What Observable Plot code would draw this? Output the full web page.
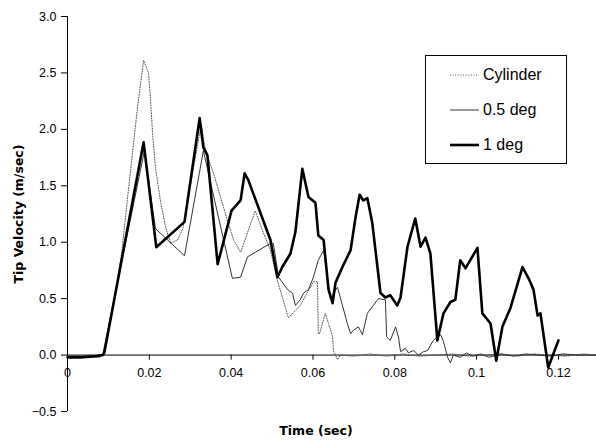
<!DOCTYPE html>
<html>
<head>
<meta charset="utf-8">
<script src="https://cdn.jsdelivr.net/npm/d3@7"></script>
<script src="https://cdn.jsdelivr.net/npm/@observablehq/plot@0.6"></script>
<style>
  html, body { margin: 0; padding: 0; background: #fff; }
  #wrap { position: relative; width: 596px; height: 444px; }
  #legend { position: absolute; left: 425px; top: 55px; width: 142px; height: 109px;
    border: 1px solid #000; background: #fff; font-family: "Liberation Sans", Arial, sans-serif;
    font-size: 16px; color: #000; box-sizing: border-box; }
  .item { position: absolute; left: 24px; display: flex; align-items: center; height: 20px; }
  .item svg { margin-right: 4px; }
</style>
</head>
<body>
<div id="wrap"><div id="legend"></div></div>
<script>
// Series names
const seriesNames = ["Cylinder", "0.5 deg", "1 deg"];

// Cylinder (dotted)
const cylT = [0, 0.004, 0.008, 0.0088, 0.0105, 0.0120, 0.0133, 0.0147, 0.0171, 0.0186, 0.0198, 0.0203, 0.0208, 0.0215, 0.0227, 0.0240, 0.0252, 0.0269, 0.0282, 0.0327, 0.0337, 0.0357, 0.0374, 0.0391, 0.0406, 0.0423, 0.0459, 0.0477, 0.0496, 0.0513, 0.0540, 0.0569, 0.0601, 0.0611, 0.0613, 0.0616, 0.0630, 0.0638, 0.0648, 0.0650, 0.0660, 0.0667, 0.070, 0.074, 0.078, 0.082, 0.086, 0.090, 0.094, 0.098, 0.102, 0.106, 0.110, 0.114, 0.118, 0.122, 0.126, 0.1293];
const cylV = [-0.02, -0.02, -0.02, 0.0, 0.32, 0.62, 0.92, 1.40, 2.19, 2.61, 2.50, 2.26, 1.96, 1.66, 1.37, 1.13, 0.99, 1.02, 1.12, 2.05, 1.81, 1.61, 1.40, 1.19, 1.02, 0.91, 1.28, 1.10, 0.93, 0.66, 0.33, 0.44, 0.65, 0.65, 0.19, 0.19, 0.37, 0.28, 0.16, 0.04, -0.04, 0.0, -0.01, 0.01, -0.01, 0.01, -0.01, 0.0, 0.01, -0.01, 0.0, 0.01, -0.01, 0.01, 0.0, -0.01, 0.01, 0.0];

// 0.5 deg (thin)
const halfT = [0, 0.004, 0.0086, 0.0188, 0.0215, 0.0286, 0.0332, 0.0403, 0.0423, 0.0440, 0.0496, 0.0503, 0.0516, 0.0538, 0.0550, 0.0557, 0.0569, 0.0577, 0.0589, 0.0601, 0.0613, 0.0626, 0.0643, 0.0650, 0.0660, 0.0684, 0.0692, 0.0699, 0.0711, 0.0721, 0.0733, 0.0760, 0.0777, 0.0780, 0.0789, 0.0802, 0.0809, 0.0814, 0.0826, 0.0833, 0.0846, 0.0858, 0.0870, 0.0880, 0.0894, 0.0912, 0.0919, 0.0929, 0.0936, 0.0943, 0.0960, 0.0975, 0.0990, 0.1010, 0.1030, 0.1060, 0.1090, 0.1120, 0.1150, 0.1180, 0.1210, 0.1250, 0.1293];
const halfV = [-0.01, -0.01, 0.0, 1.81, 1.12, 0.88, 1.81, 0.68, 0.69, 0.87, 0.99, 0.99, 0.69, 0.58, 0.55, 0.44, 0.49, 0.55, 0.58, 0.69, 0.84, 0.93, 0.49, 0.55, 0.60, 0.28, 0.19, 0.22, 0.25, 0.18, 0.37, 0.50, 0.49, 0.16, 0.13, 0.25, 0.16, 0.03, 0.06, 0.02, 0.04, 0.0, 0.03, 0.04, 0.13, 0.18, 0.12, -0.02, -0.07, 0.0, -0.02, 0.02, -0.01, 0.01, -0.02, 0.01, -0.01, 0.01, 0.0, -0.01, 0.01, 0.0, 0.0];

// 1 deg (thick)
const oneT = [0, 0.0032, 0.0068, 0.0086, 0.0090, 0.0186, 0.0217, 0.0286, 0.0323, 0.0332, 0.0342, 0.0367, 0.0401, 0.0423, 0.0433, 0.0442, 0.0496, 0.0513, 0.0525, 0.0545, 0.0557, 0.0574, 0.0589, 0.0606, 0.0613, 0.0626, 0.0638, 0.0648, 0.0655, 0.0672, 0.0692, 0.0704, 0.0714, 0.0723, 0.0733, 0.0745, 0.0765, 0.0777, 0.0789, 0.0806, 0.0814, 0.0831, 0.0850, 0.0863, 0.0875, 0.0887, 0.0904, 0.0919, 0.0936, 0.0948, 0.0960, 0.0973, 0.1002, 0.1014, 0.1034, 0.1048, 0.1063, 0.1083, 0.1112, 0.1127, 0.1139, 0.1149, 0.1156, 0.1175, 0.1200];
const oneV = [-0.02, -0.02, -0.01, 0.0, 0.02, 1.885, 0.956, 1.18, 2.10, 1.84, 1.77, 0.805, 1.28, 1.37, 1.61, 1.55, 1.02, 0.69, 0.78, 0.90, 1.09, 1.65, 1.40, 1.35, 1.06, 1.02, 0.58, 0.46, 0.64, 0.78, 0.93, 1.22, 1.42, 1.37, 1.39, 1.17, 0.55, 0.51, 0.53, 0.44, 0.51, 0.96, 1.21, 0.96, 1.04, 0.90, 0.13, 0.37, 0.47, 0.49, 0.84, 0.77, 0.95, 0.37, 0.28, -0.05, 0.25, 0.42, 0.78, 0.68, 0.58, 0.35, 0.37, -0.11, 0.13];

// Axis ticks
const yTicks = [-0.5, 0, 0.5, 1.0, 1.5, 2.0, 2.5, 3.0];
const xTicks = [0, 0.02, 0.04, 0.06, 0.08, 0.1, 0.12];
const xTickLabels = ["0", "0.02", "0.04", "0.06", "0.08", "0.1", "0.12"];
const xTitle = "Time (sec)";
const yTitle = "Tip Velocity (m/sec)";

const toRows = (T, V) => T.map((t, i) => ({t, v: V[i]}));
const cyl = toRows(cylT, cylV);
const half = toRows(halfT, halfV);
const one = toRows(oneT, oneV);

const styles = [
  {stroke: "#555", strokeWidth: 1, strokeDasharray: "1,1.6"},
  {stroke: "#333", strokeWidth: 1},
  {stroke: "#000", strokeWidth: 2.6}
];

const tickFont = "'Liberation Sans', Arial, sans-serif";
const titleFont = "'DejaVu Sans', Verdana, sans-serif";

const chart = Plot.plot({
  width: 596,
  height: 444,
  marginLeft: 67,
  marginRight: 0,
  marginTop: 16,
  marginBottom: 33,
  style: {fontFamily: tickFont, background: "#fff", overflow: "visible"},
  x: {domain: [0, 0.1293]},
  y: {domain: [-0.5, 3.0]},
  marks: [
    Plot.ruleX([0], {y1: -0.5, y2: 3.0, stroke: "#000", strokeWidth: 1}),
    Plot.ruleY([0], {stroke: "#000", strokeWidth: 1}),
    Plot.axisY({ticks: yTicks, tickSize: 6, tickPadding: 5, tickFormat: d3.format(".1f"), fontSize: 12.5, label: null, stroke: "#000", fill: "#000"}),
    Plot.axisX({ticks: [], label: null}),
    Plot.ruleX(xTicks, {x: d => d, y1: 0, y2: -0.045, stroke: "#000"}),
    Plot.text(xTicks, {x: d => d, y: 0, dy: 18, text: (d, i) => xTickLabels[i], fontSize: 12.5, fill: "#000"}),
    Plot.line(cyl, {x: "t", y: "v", ...styles[0]}),
    Plot.line(half, {x: "t", y: "v", ...styles[1]}),
    Plot.line(one, {x: "t", y: "v", ...styles[2], strokeLinejoin: "round"}),
    Plot.text([yTitle], {frameAnchor: "left", dx: -49, rotate: -90, textAnchor: "middle", lineAnchor: "middle", fontWeight: "bold", fontSize: 12.5, fontFamily: titleFont, fill: "#000"}),
    Plot.text([xTitle], {frameAnchor: "bottom", dx: -16, dy: 19, textAnchor: "middle", lineAnchor: "middle", fontWeight: "bold", fontSize: 12.5, fontFamily: titleFont, fill: "#000"})
  ]
});

document.getElementById("wrap").prepend(chart);

// Legend
const legend = document.getElementById("legend");
const tops = [9, 44, 79];
seriesNames.forEach((name, i) => {
  const item = document.createElement("div");
  item.className = "item";
  item.style.top = tops[i] + "px";
  const s = styles[i];
  item.innerHTML = `<svg width="29" height="10"><line x1="0" x2="29" y1="5" y2="5" stroke="${s.stroke}" stroke-width="${s.strokeWidth}" ${s.strokeDasharray ? `stroke-dasharray="${s.strokeDasharray}"` : ""}/></svg><span>${name}</span>`;
  legend.appendChild(item);
});
</script>
</body>
</html>
